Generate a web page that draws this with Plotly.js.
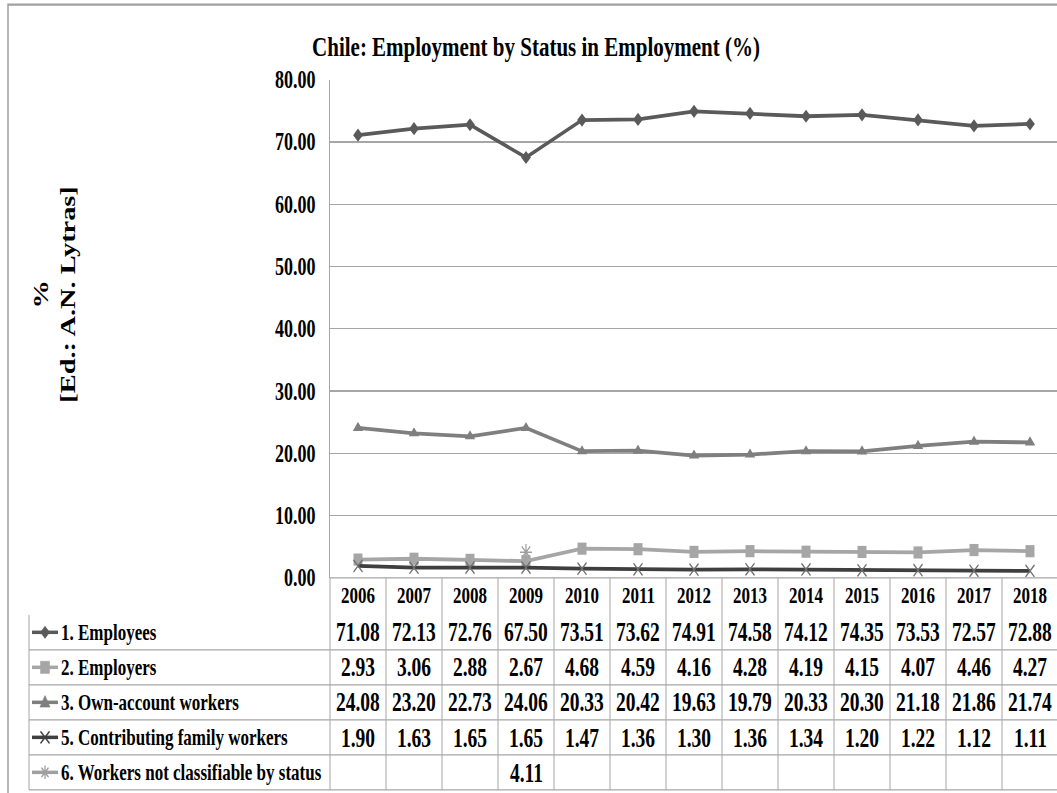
<!DOCTYPE html>
<html>
<head>
<meta charset="utf-8">
<script src="https://cdn.plot.ly/plotly-3.0.1.min.js"></script>
<style>
html { margin:0; padding:0; overflow:hidden; background:#fff; }
body { margin:0; padding:0; width:1057px; height:793px; background:#fff; overflow:visible; }
#chart { width:1070px; height:588px; transform: scaleY(1.35); transform-origin: 0 0; }
</style>
</head>
<body>
<div id="chart"></div>
<script>
// ---------------- data ----------------
const years = ['2006','2007','2008','2009','2010','2011','2012','2013','2014','2015','2016','2017','2018'];
const employees = [71.08,72.13,72.76,67.50,73.51,73.62,74.91,74.58,74.12,74.35,73.53,72.57,72.88];
const employers = [2.93,3.06,2.88,2.67,4.68,4.59,4.16,4.28,4.19,4.15,4.07,4.46,4.27];
const ownAccount = [24.08,23.20,22.73,24.06,20.33,20.42,19.63,19.79,20.33,20.30,21.18,21.86,21.74];
const contributing = [1.90,1.63,1.65,1.65,1.47,1.36,1.30,1.36,1.34,1.20,1.22,1.12,1.11];
const notClassifiable = [null,null,null,4.11,null,null,null,null,null,null,null,null,null];
const seriesNames = ['1. Employees','2. Employers','3. Own-account workers','5. Contributing family workers','6. Workers not classifiable by status'];
const yTickVals = [0,10,20,30,40,50,60,70,80];
const chartTitle = 'Chile: Employment by Status in Employment (%)';
const yTitle = '%<br>[Ed.: A.N. Lytras]';

// ---------------- geometry helpers (reference pixel -> paper) ----------------
const S = 1.35;               // vertical stretch of the reference picture
const W = 1070, H = 588;
const PL = 330, PW = 728;     // plot left / width (px)
const PT = 80, PB = 578;      // plot top / bottom in reference px
const px = x => (x - PL) / PW;
const py = y => (PB - y) / (PB - PT);

const rowTops = [578, 615, 650, 685, 720, 755, 790]; // header + 5 rows
const rowCenter = i => (rowTops[i] + rowTops[i + 1]) / 2;

const serif = 'Liberation Serif, Times New Roman, serif';
const gridCol = '#A6A6A6';

const seriesVals = [employees, employers, ownAccount, contributing, notClassifiable];
const styles = [
  {line:{color:'#5A5A5A', width:2.8}, marker:{symbol:'diamond', size:7.5, color:'#5A5A5A'},
   icon:{path:'M-4.5,0L0,4.5L4.5,0L0,-4.5Z', fill:true, color:'#5A5A5A'}},
  {line:{color:'#A6A6A6', width:2.8}, marker:{symbol:'square', size:9, color:'#A6A6A6'},
   icon:{path:'M-4.5,-4.5H4.5V4.5H-4.5Z', fill:true, color:'#A6A6A6'}},
  {line:{color:'#7F7F7F', width:2.8}, marker:{symbol:'triangle-up', size:9, color:'#7F7F7F'},
   icon:{path:'M-5,-3.5L5,-3.5L0,5Z', fill:true, color:'#7F7F7F'}},
  {line:{color:'#3F3F3F', width:2.8}, marker:{symbol:'x-thin', size:9, line:{color:'#707070', width:1.2}},
   icon:{path:'M-4.5,-4.5L4.5,4.5M-4.5,4.5L4.5,-4.5', fill:false, color:'#3F3F3F'}},
  {line:{color:'#A0A0A0', width:2.8}, marker:{symbol:'asterisk', size:10, line:{color:'#A0A0A0', width:1.2}},
   icon:{path:'M-5,0H5M0,-5V5M-3.5,-3.5L3.5,3.5M-3.5,3.5L3.5,-3.5', fill:false, color:'#A0A0A0'}}
];

const traces = seriesVals.map((vals, i) => ({
  type:'scatter', mode:'lines+markers', name: seriesNames[i],
  x: years, y: vals, line: styles[i].line, marker: styles[i].marker,
  connectgaps:false, cliponaxis:false
}));

// ---------------- table (annotations + shapes) ----------------
const annotations = [];
years.forEach((yr, j) => {
  annotations.push({xref:'x', yref:'paper', x:j, y:py(rowCenter(0)), text:yr, showarrow:false,
    font:{family:serif, size:17, color:'#000', weight:'bold'}, xanchor:'center', yanchor:'middle'});
});
seriesVals.forEach((vals, i) => {
  vals.forEach((v, j) => {
    if (v === null) return;
    annotations.push({xref:'x', yref:'paper', x:j, y:py(rowCenter(i + 1)), text:v.toFixed(2), showarrow:false,
      font:{family:serif, size:19.5, color:'#000', weight:'bold'}, xanchor:'center', yanchor:'middle'});
  });
});
// row labels
seriesNames.forEach((name, i) => {
  annotations.push({xref:'paper', yref:'paper', x:px(59), y:py(rowCenter(i + 1)), text:name, showarrow:false,
    font:{family:serif, size:17, color:'#000', weight:'bold'}, xanchor:'left', yanchor:'middle'});
});
annotations.push({xref:'paper', yref:'paper', x:px(54), y:py(295), text:yTitle, textangle:-90, showarrow:false,
  font:{family:serif, size:21, color:'#000', weight:'bold'}, xanchor:'center', yanchor:'middle'});

const shapes = [];
const ln = (x0, y0, x1, y1, c, w) => shapes.push({type:'line', xref:'paper', yref:'paper', x0, y0, x1, y1,
  line:{color:c || gridCol, width:w || 1}, layer:'above'});
// column separators
for (let k = 0; k <= years.length; k++) ln(k / years.length, py(578), k / years.length, py(790));
// row separators
ln(0, py(578), 1.02, py(578));
for (let r = 2; r < rowTops.length; r++) ln(px(29), py(rowTops[r]), 1.02, py(rowTops[r]));
// left edge of label column
ln(px(29), py(615), px(29), py(790));
// legend keys in the label column
styles.forEach((st, i) => {
  const yc = py(rowCenter(i + 1));
  ln(px(32), yc, px(58), yc, st.line.color, 2.6);
  shapes.push({type:'path', xref:'paper', yref:'paper', xsizemode:'pixel', ysizemode:'pixel',
    xanchor:px(45), yanchor:yc, path:st.icon.path,
    fillcolor: st.icon.fill ? st.icon.color : 'rgba(0,0,0,0)',
    line:{color:st.icon.color, width: st.icon.fill ? 0.5 : 1.3}, layer:'above'});
});
// outer chart border
shapes.push({type:'rect', xref:'paper', yref:'paper', x0:px(8), y0:py(5), x1:px(1066), y1:py(800),
  line:{color:'#A0A0A0', width:1.5}, fillcolor:'rgba(0,0,0,0)', layer:'below'});

const layout = {
  width: W, height: H,
  margin: {l: PL, r: W - PL - PW, t: PT / S, b: H - PB / S, autoexpand:false},
  paper_bgcolor:'#fff', plot_bgcolor:'#fff',
  font:{family:serif, color:'#000'},
  title:{text: chartTitle, xref:'container', yref:'container', x: 536 / W, y: 1 - 46 / 793,
    xanchor:'center', yanchor:'middle', font:{family:serif, size:21, color:'#000', weight:'bold'}},
  xaxis:{type:'category', range:[-0.5, years.length - 0.5], showticklabels:false, showgrid:false,
    zeroline:false, showline:false, ticks:'', fixedrange:true},
  yaxis:{range:[0, 80], tickvals: yTickVals, tickformat:'.2f', showgrid:true, gridcolor:gridCol, gridwidth:1,
    zeroline:false, showline:true, linecolor:gridCol, linewidth:1, ticks:'', ticklabelstandoff:10,
    tickfont:{family:serif, size:18, color:'#000', weight:'bold'}, fixedrange:true},
  showlegend:false,
  annotations, shapes
};

Plotly.newPlot('chart', traces, layout, {displayModeBar:false, staticPlot:true});
</script>
</body>
</html>
